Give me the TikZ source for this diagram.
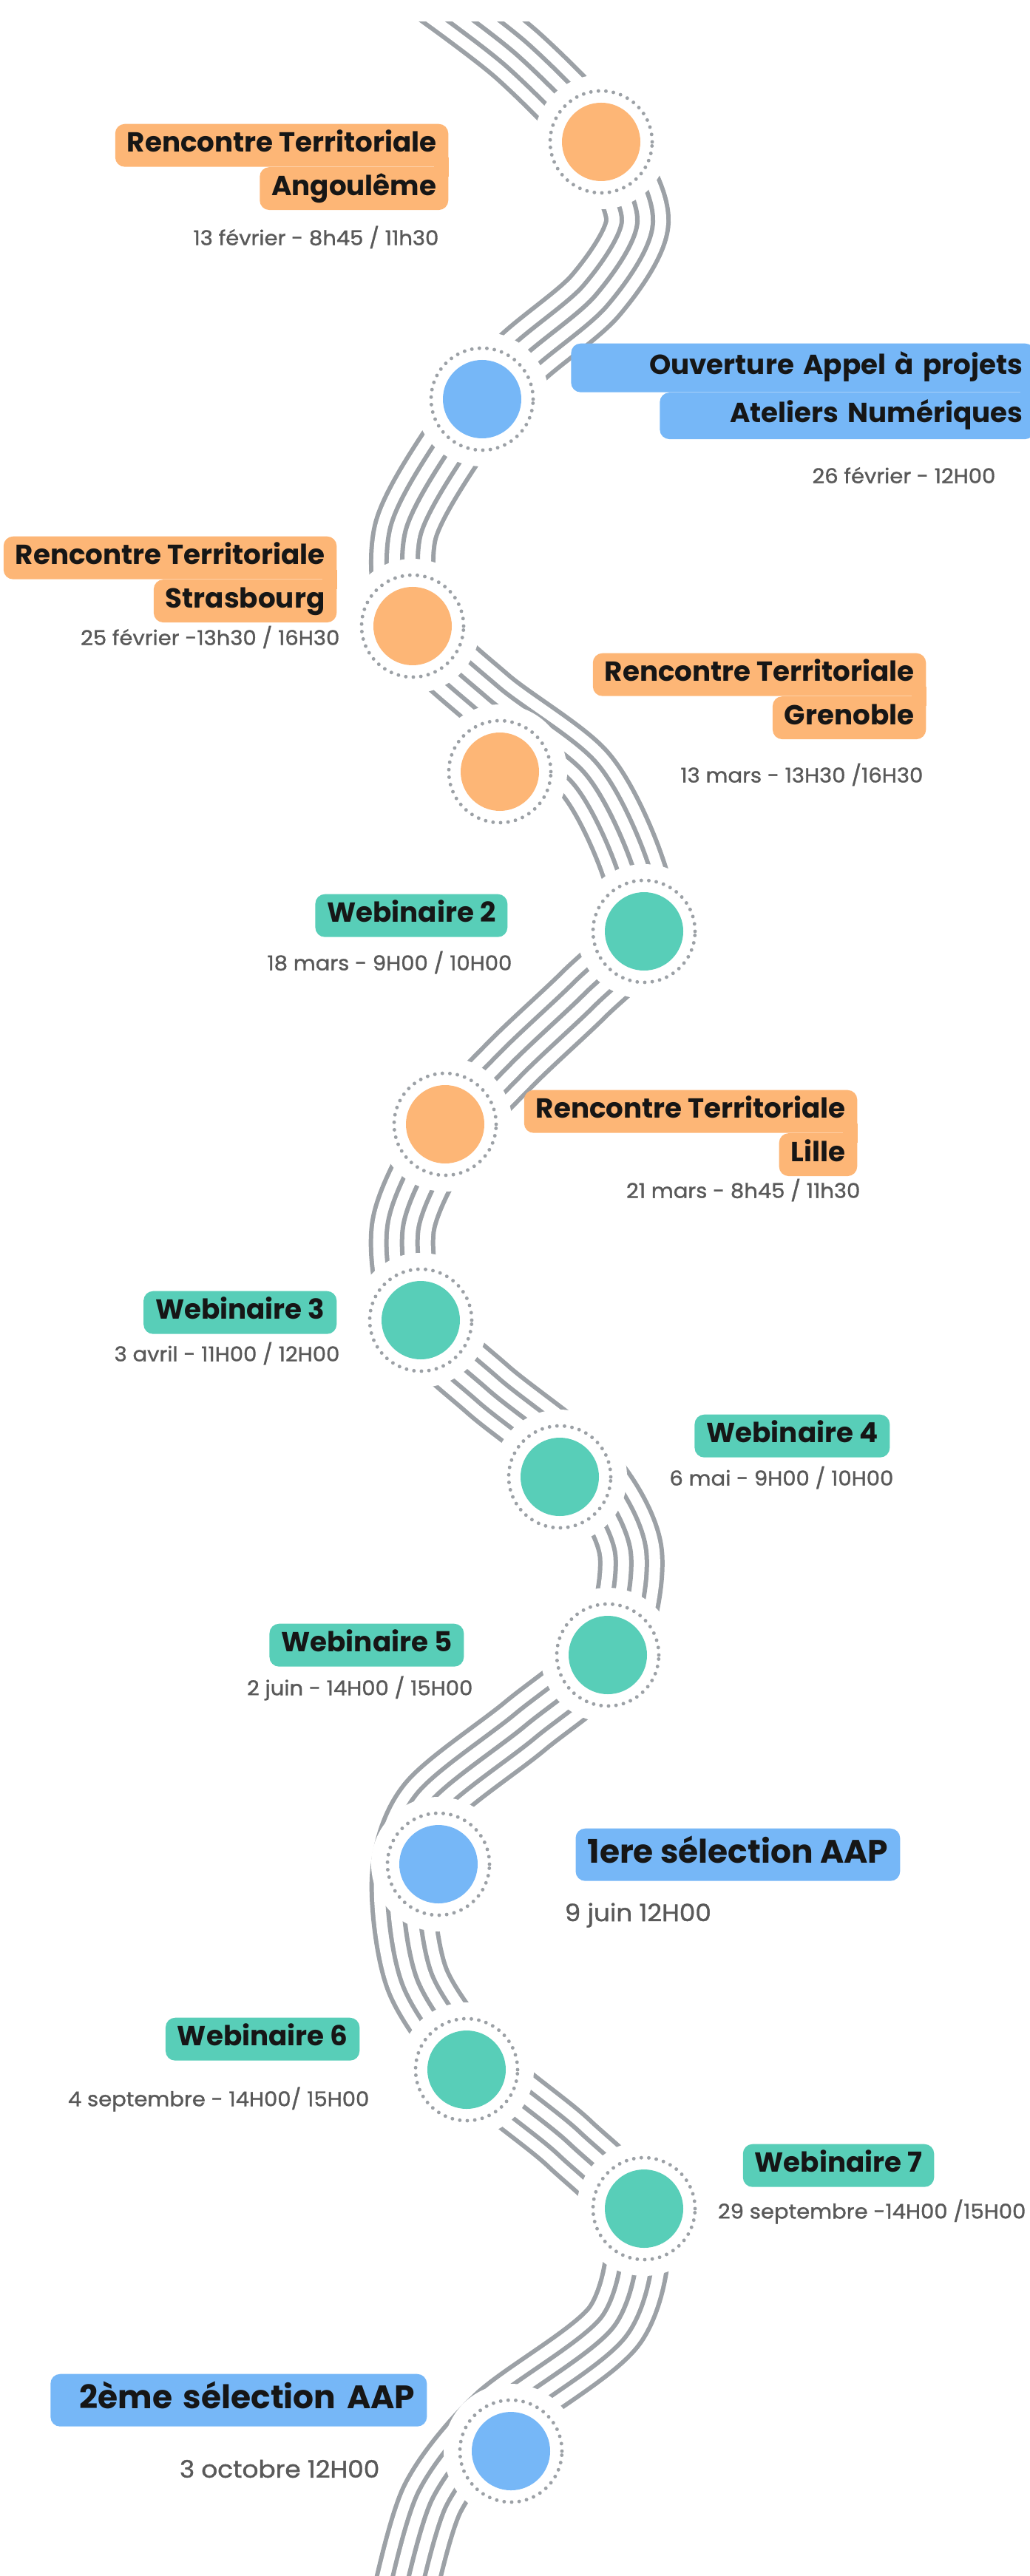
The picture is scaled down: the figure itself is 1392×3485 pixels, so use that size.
\documentclass[tikz,border=0pt]{standalone}
\usepackage{fontspec}
\setmainfont{Poppins}
\newfontfamily\datefont[FakeStretch=1.06, FakeBold=1.2]{Poppins}
\usetikzlibrary{positioning,calc}

\definecolor{peach}{HTML}{FDB676}
\definecolor{sky}{HTML}{76B7F7}
\definecolor{mint}{HTML}{58CEB8}
\definecolor{roadgrey}{HTML}{9CA1A6}
\definecolor{ink}{HTML}{161616}
\definecolor{dategrey}{HTML}{595959}

\tikzstyle{tag} = [anchor=north east, rounded corners=1.3mm, inner xsep=1.6mm, inner ysep=0pt, minimum height=5.8mm, text height=2.6mm, text depth=0.75mm, text=ink, font=\bfseries\fontsize{10.6}{12}\selectfont]
\tikzstyle{bigtag} = [tag, minimum height=7.1mm, text height=3.2mm, text depth=0.9mm, font=\bfseries\fontsize{12.5}{14}\selectfont]
\tikzstyle{date} = [anchor=east, inner sep=0pt, text=dategrey, font=\datefont\fontsize{7.8}{9}\selectfont]
\tikzstyle{bigdate} = [date, font=\datefont\fontsize{9.2}{11}\selectfont]
\tikzstyle{stop} = [circle, minimum size=10.6mm, inner sep=0pt]
\tikzstyle{ring} = [draw=roadgrey, line width=1.4pt, dash pattern=on 0pt off 2.9pt, line cap=round]

\begin{document}
\begin{tikzpicture}[x=0.1mm, y=-0.1mm]
\useasboundingbox (0,0) rectangle (1392,3485);

% the road
\coordinate (w0) at (575,-20);   \coordinate (w1) at (700,75);
\coordinate (w2) at (815,195);   \coordinate (w3) at (862,300);
\coordinate (w4) at (805,400);   \coordinate (w5) at (700,490);
\coordinate (w6) at (620,590);   \coordinate (w7) at (548,720);
\coordinate (w8) at (560,845);   \coordinate (w9) at (660,945);
\coordinate (w10) at (790,1045); \coordinate (w11) at (853,1165);
\coordinate (w12) at (868,1262); \coordinate (w13) at (790,1345);
\coordinate (w14) at (690,1440); \coordinate (w15) at (600,1540);
\coordinate (w16) at (545,1660); \coordinate (w17) at (565,1786);
\coordinate (w18) at (660,1880); \coordinate (w19) at (795,1990);
\coordinate (w20) at (853,2100); \coordinate (w21) at (825,2235);
\coordinate (w22) at (710,2335); \coordinate (w23) at (580,2440);
\coordinate (w24) at (545,2540); \coordinate (w25) at (565,2680);
\coordinate (w26) at (650,2800); \coordinate (w27) at (770,2900);
\coordinate (w28) at (860,3000); \coordinate (w29) at (832,3145);
\coordinate (w30) at (672,3270); \coordinate (w31) at (585,3380);
\coordinate (w32) at (545,3520);

\begin{scope}
\clip (0,30) rectangle (1392,3485);
\foreach \w/\c in {25.6pt/roadgrey, 22.2pt/white, 13.66pt/roadgrey, 10.24pt/white, 1.71pt/roadgrey}
  \draw[line width=\w, \c] plot[smooth] coordinates {(w0) (w1) (w2) (w3) (w4) (w5) (w6) (w7) (w8) (w9) (w10) (w11) (w12) (w13) (w14) (w15) (w16) (w17) (w18) (w19) (w20) (w21) (w22) (w23) (w24) (w25) (w26) (w27) (w28) (w29) (w30) (w31) (w32)};
\end{scope}

% stops on the road
\foreach \n/\x/\y/\c in {s1/813/192/peach, s2/652/540/sky, s3/558/847/peach, s4/676/1044/peach, s5/871/1260/mint, s6/602/1521/peach, s7/569/1786/mint, s8/757/1998/mint, s9/822/2239/mint, s10/593/2522/sky, s11/631/2800/mint, s12/871/2988/mint, s13/691/3316/sky}
{
  \fill[white] (\x,\y) circle (9.1mm);
  \node[stop, fill=\c] (\n) at (\x,\y) {};
  \draw[ring] (\n.center) circle (6.9mm);
}

% labels
\node[tag, fill=peach] (ang1) at (607,167) {Rencontre Territoriale};
\node[tag, fill=peach] (ang2) at ($(ang1.south east)+(0,-1)$) {Angoulême};
\fill[peach] ($(ang1.south east)+(-20,-13)$) rectangle ($(ang1.south east)+(0,13)$);
\node[date] (angd) at (594,321) {13 février - 8h45 / 11h30};

\node[tag, fill=sky, minimum height=6.6mm, text width=59.5mm, align=right] (aap1) at (1400,464) {Ouverture Appel à projets};
\node[tag, fill=sky, minimum height=6.3mm, text width=47.5mm, align=right] (aap2) at ($(aap1.south east)+(0,-1)$) {Ateliers Numériques};
\fill[sky] ($(aap1.south east)+(-20,-13)$) rectangle ($(aap1.south east)+(0,13)$);
\node[date] (aapd) at (1347,643) {26 février - 12H00};

\node[tag, fill=peach] (str1) at (456,725) {Rencontre Territoriale};
\node[tag, fill=peach] (str2) at ($(str1.south east)+(0,-1)$) {Strasbourg};
\fill[peach] ($(str1.south east)+(-20,-13)$) rectangle ($(str1.south east)+(0,13)$);
\node[date] (strd) at (460,862) {25 février -13h30 / 16H30};

\node[tag, fill=peach] (gre1) at (1253,883) {Rencontre Territoriale};
\node[tag, fill=peach] (gre2) at ($(gre1.south east)+(0,-1)$) {Grenoble};
\fill[peach] ($(gre1.south east)+(-20,-13)$) rectangle ($(gre1.south east)+(0,13)$);
\node[date] (gred) at (1249,1048) {13 mars - 13H30 /16H30};

\node[tag, fill=mint] (web2) at (687,1209) {Webinaire 2};
\node[date] (web2d) at (693,1302) {18 mars - 9H00 / 10H00};

\node[tag, fill=peach] (lil1) at (1160,1474) {Rencontre Territoriale};
\node[tag, fill=peach] (lil2) at ($(lil1.south east)+(0,-1)$) {Lille};
\fill[peach] ($(lil1.south east)+(-20,-13)$) rectangle ($(lil1.south east)+(0,13)$);
\node[date] (lild) at (1164,1610) {21 mars - 8h45 / 11h30};

\node[tag, fill=mint] (web3) at (456,1746) {Webinaire 3};
\node[date] (web3d) at (460,1831) {3 avril - 11H00 / 12H00};

\node[tag, fill=mint] (web4) at (1204,1913) {Webinaire 4};
\node[date] (web4d) at (1209,1999) {6 mai - 9H00 / 10H00};

\node[tag, fill=mint] (web5) at (628,2196) {Webinaire 5};
\node[date] (web5d) at (640,2284) {2 juin - 14H00 / 15H00};

\node[bigtag, fill=sky] (sel1) at (1218,2473) {1ere sélection AAP};
\node[bigdate, anchor=west] (sel1d) at (763,2591) {9 juin 12H00};

\node[tag, fill=mint] (web6) at (487,2729) {Webinaire 6};
\node[date] (web6d) at (500,2840) {4 septembre - 14H00/ 15H00};

\node[tag, fill=mint] (web7) at (1264,2900) {Webinaire 7};
\node[date] (web7d) at (1388,2992) {29 septembre -14H00 /15H00};

\node[bigtag, fill=sky, text width=47.7mm, align=right] (sel2) at (578,3211) {2ème sélection AAP};
\node[bigdate] (sel2d) at (514,3340) {3 octobre 12H00};
\end{tikzpicture}
\end{document}
